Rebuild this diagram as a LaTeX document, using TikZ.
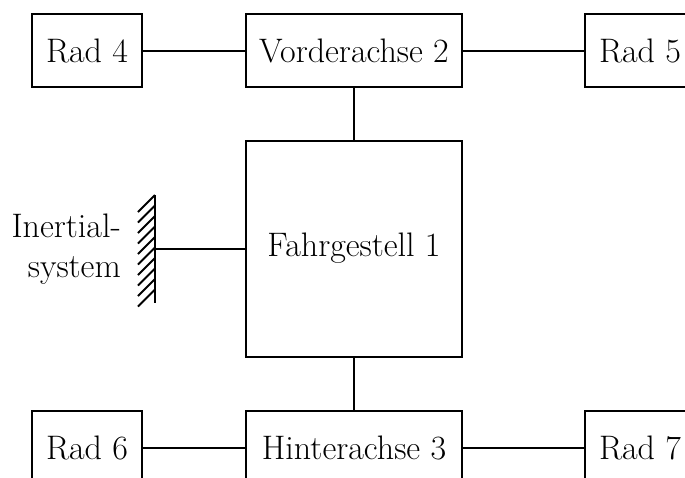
\documentclass[tikz,border=0pt]{standalone}
\begin{document}
\begin{tikzpicture}[x=1pt,y=-1pt,
  box/.style={draw, line width=2pt, minimum width=110pt, minimum height=73pt, inner sep=0pt, font=\fontsize{34}{40}\selectfont},
  wide/.style={box, minimum width=216pt},
  conn/.style={line width=2pt}]
\useasboundingbox (0,0) rectangle (685,477);
\node[box]  (rad4)   at (87,50.5)    {Rad 4};
\node[wide] (vorder) at (354,50.5)   {Vorderachse 2};
\node[box]  (rad5)   at (640,50.5)   {Rad 5};
\node[wide, minimum height=216pt] (fahr) at (354,248.5) {Fahrgestell 1};
\node[box]  (rad6)   at (87,447.5)   {Rad 6};
\node[wide] (hinter) at (354,447.5)  {Hinterachse 3};
\node[box]  (rad7)   at (640,447.5)  {Rad 7};
\draw[conn] (rad4) -- (vorder);
\draw[conn] (vorder) -- (rad5);
\draw[conn] (rad6) -- (hinter);
\draw[conn] (hinter) -- (rad7);
\draw[conn] (vorder) -- (fahr);
\draw[conn] (fahr) -- (hinter);
% inertial system wall
\coordinate (wtop) at (155,195);
\coordinate (wbot) at (155,303);
\coordinate (wmid) at (155,249);
\draw[line width=2.6pt] (wtop) -- (wbot);
\foreach \i in {0,...,9} {
  \draw[line width=1.8pt] (138,{212+\i*10.5}) -- ++(17,-17);
}
\draw[conn] (wmid) -- (fahr.west |- wmid);
\node[font=\fontsize{34}{40}\selectfont, align=right, anchor=east, inner sep=0pt] (inert) at (121,249) {Inertial-\\system};
\end{tikzpicture}
\end{document}
